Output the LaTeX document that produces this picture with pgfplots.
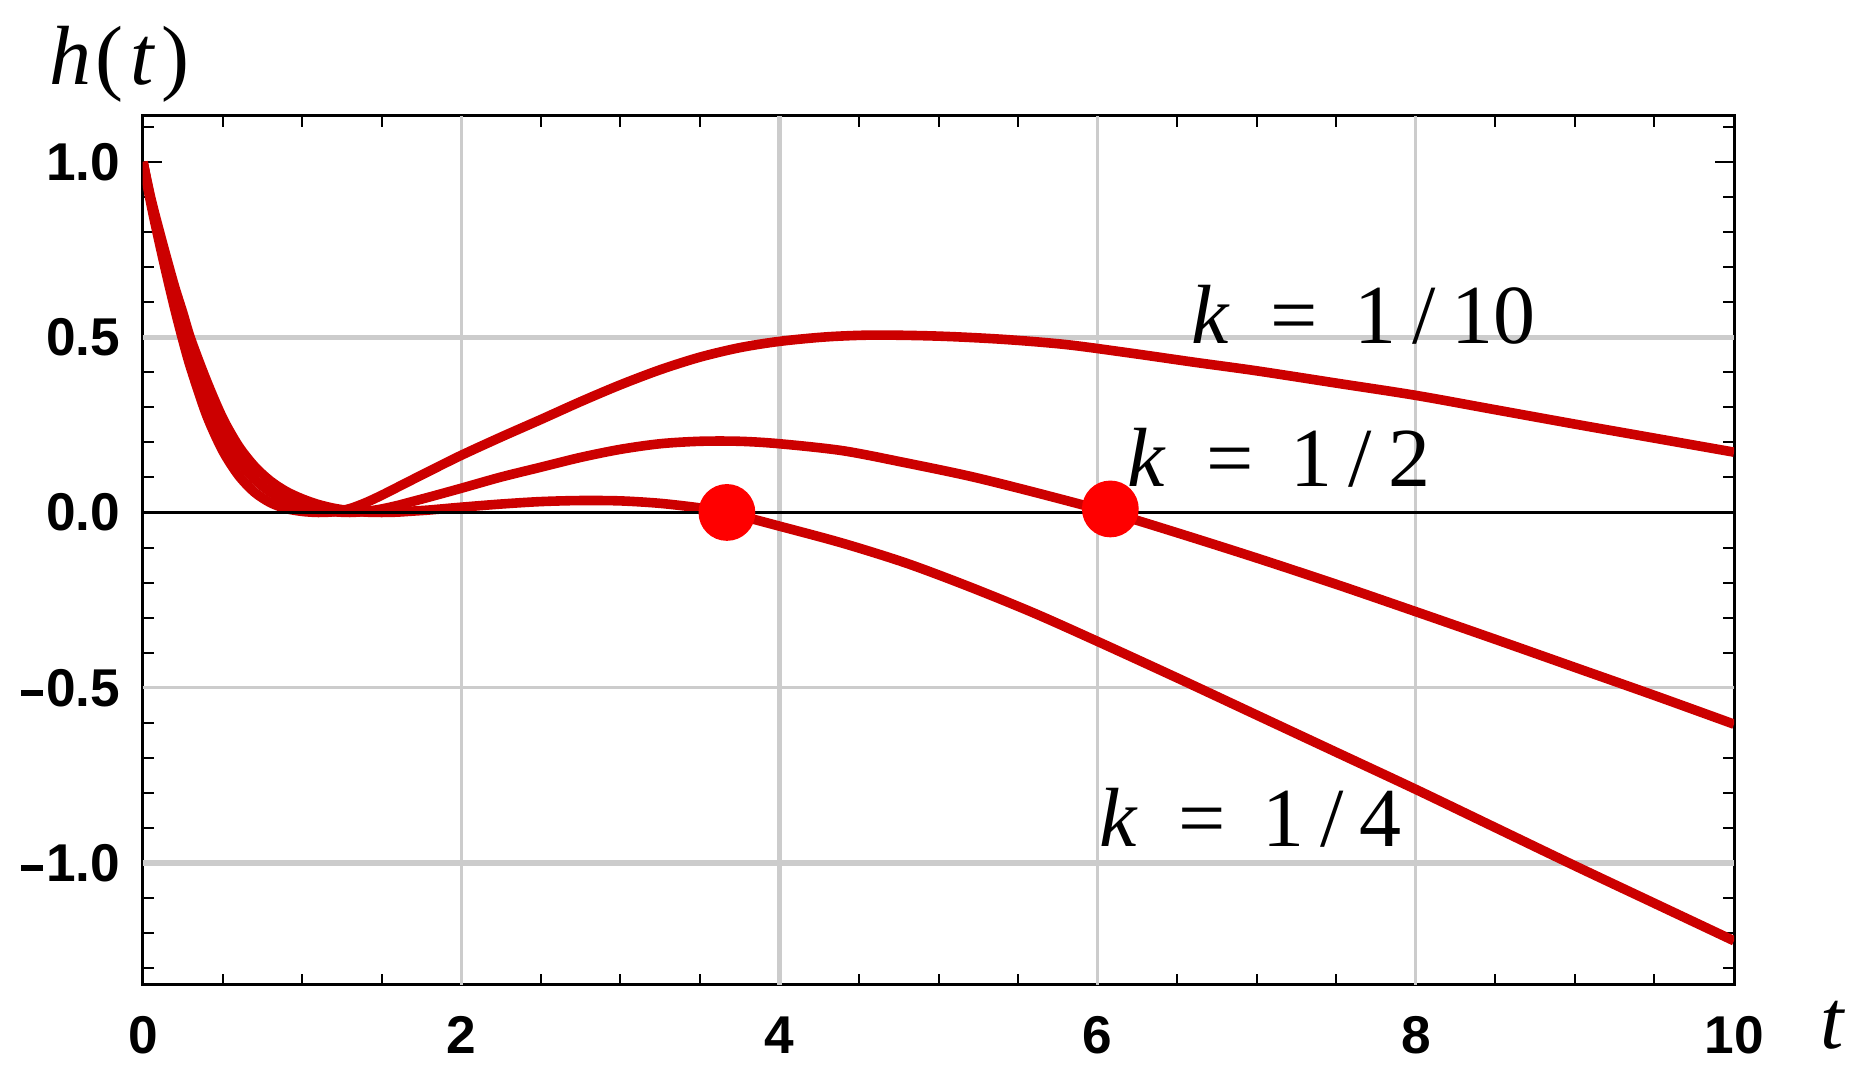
\documentclass[border=0pt]{standalone}
\usepackage{fontspec}
\setmainfont{Liberation Serif}
\newfontfamily\tickfont{Liberation Sans}
\usepackage{pgfplots}
\pgfplotsset{compat=1.18}

\definecolor{curvered}{RGB}{204,0,0}
\definecolor{dotred}{RGB}{255,0,0}
\definecolor{gridgray}{RGB}{204,204,204}

\newcommand\labfont{\fontsize{21}{24}\selectfont}
\newcommand\klab[1]{\textit{k}\kern10.2pt=\kern9.1pt 1\kern4pt/\kern4pt#1}
\newcommand\mn{\raisebox{2.6pt}{\rule{5.5pt}{1.5pt}}\kern0.8pt}

\begin{document}
\begin{tikzpicture}
\begin{axis}[
    scale only axis, width=397.75pt, height=217.25pt,
    xmin=0, xmax=10, ymin=-1.348, ymax=1.131,
    axis line style={line width=0.75pt},
    xtick={0,2,4,6,8,10}, ytick={-1,-0.5,0,0.5,1},
    yticklabels={\mn1.0,\mn0.5,0.0,0.5,1.0},
    minor xtick={0.5,1,1.5,2.5,3,3.5,4.5,5,5.5,6.5,7,7.5,8.5,9,9.5},
    minor ytick={-1.3,-1.2,-1.1,-0.9,-0.8,-0.7,-0.6,-0.4,-0.3,-0.2,-0.1,0.1,0.2,0.3,0.4,0.6,0.7,0.8,0.9,1.1},
    tick align=inside, xtick pos=both, ytick pos=both,
    xticklabel pos=lower, yticklabel pos=left,
    major tick length=4.75pt, minor tick length=2.75pt,
    every tick/.style={black, line width=0.5pt},
    tick label style={font=\tickfont\bfseries\fontsize{13.3}{15}\selectfont, inner sep=0pt},
    /pgf/number format/assume math mode=true,
    xticklabel style={anchor=north, yshift=-7.75pt},
    yticklabel style={anchor=east, xshift=-5.5pt},
]
% grid lines (widths as rendered in the original)
\draw[gridgray, line width=0.75pt] (axis cs:2,-1.348) -- (axis cs:2,1.131);
\draw[gridgray, line width=1.4pt] (axis cs:4,-1.348) -- (axis cs:4,1.131);
\draw[gridgray, line width=0.7pt] (axis cs:6,-1.348) -- (axis cs:6,1.131);
\draw[gridgray, line width=0.7pt] (axis cs:8,-1.348) -- (axis cs:8,1.131);
\draw[gridgray, line width=1.3pt] (axis cs:0,0.5) -- (axis cs:10,0.5);
\draw[gridgray, line width=0.7pt] (axis cs:0,-0.5) -- (axis cs:10,-0.5);
\draw[gridgray, line width=1.3pt] (axis cs:0,-1) -- (axis cs:10,-1);

% k = 1/10
\addplot[curvered, line width=2.4pt, smooth, line join=round] coordinates {
    (0,1.000) (0.05,0.880) (0.1,0.775) (0.15,0.675) (0.2,0.580) (0.25,0.492)
    (0.3,0.412) (0.4,0.277) (0.5,0.177) (0.6,0.106) (0.7,0.058) (0.8,0.028)
    (0.9,0.011) (1.0,0.003) (1.1,0.000) (1.2,0.002) (1.3,0.011) (1.4,0.028)
    (1.5,0.049) (1.6,0.072) (1.8,0.118) (2.0,0.163) (2.25,0.215) (2.5,0.265)
    (2.75,0.316) (3.0,0.364) (3.25,0.407) (3.5,0.443) (3.75,0.470) (4.0,0.488)
    (4.3,0.501) (4.6,0.506) (5.0,0.503) (5.4,0.494) (5.8,0.479) (6.2,0.455)
    (6.6,0.429) (7.0,0.404) (7.5,0.369) (8.0,0.334) (8.5,0.293) (9.0,0.252)
    (9.5,0.212) (10,0.172)
};
% k = 1/2
\addplot[curvered, line width=2.4pt, smooth, line join=round] coordinates {
    (0,1.000) (0.05,0.888) (0.1,0.792) (0.15,0.700) (0.2,0.612) (0.25,0.532)
    (0.3,0.455) (0.4,0.327) (0.5,0.225) (0.6,0.148) (0.7,0.095) (0.8,0.058)
    (0.9,0.034) (1.0,0.017) (1.1,0.007) (1.2,0.002) (1.3,0.000) (1.4,0.003)
    (1.5,0.010) (1.6,0.020) (1.7,0.032) (1.8,0.044) (2.0,0.069) (2.25,0.101)
    (2.5,0.129) (2.75,0.157) (3.0,0.180) (3.25,0.196) (3.5,0.203) (3.75,0.203)
    (4.0,0.196) (4.4,0.176) (4.8,0.141) (5.2,0.103) (5.6,0.058) (6.08,0.000)
    (6.5,-0.058) (7.0,-0.130) (7.5,-0.205) (8.0,-0.283) (8.5,-0.362)
    (9.0,-0.442) (9.5,-0.522) (10,-0.604)
};
% k = 1/4
\addplot[curvered, line width=2.4pt, smooth, line join=round] coordinates {
    (0,1.000) (0.05,0.895) (0.1,0.807) (0.15,0.723) (0.2,0.642) (0.25,0.570)
    (0.3,0.495) (0.4,0.375) (0.5,0.270) (0.6,0.190) (0.7,0.132) (0.8,0.090)
    (0.9,0.060) (1.0,0.039) (1.1,0.023) (1.2,0.012) (1.3,0.005) (1.4,0.001)
    (1.5,0.000) (1.6,0.001) (1.7,0.004) (1.8,0.007) (2.0,0.015) (2.25,0.024)
    (2.5,0.031) (2.75,0.034) (3.0,0.033) (3.25,0.026) (3.5,0.013) (3.67,0.000)
    (4.0,-0.039) (4.4,-0.088) (4.8,-0.145) (5.2,-0.213) (5.6,-0.287)
    (6.0,-0.368) (6.5,-0.472) (7.0,-0.578) (7.5,-0.684) (8.0,-0.790)
    (8.5,-0.899) (9.0,-1.008) (9.5,-1.115) (10,-1.222)
};
% t axis
\addplot[black, line width=0.6pt] coordinates {(0,0) (10,0)};
% zero crossings
\addplot[only marks, mark=*, mark size=6.9pt, color=dotred] coordinates {(3.67,0) (6.08,0.01)};

\node[anchor=base west, font=\labfont] at (axis cs:6.50,0.481) {\klab{10}};
\node[anchor=base west, font=\labfont] at (axis cs:6.10,0.073) {\klab{2}};
\node[anchor=base west, font=\labfont] at (axis cs:5.92,-0.954) {\klab{4}};
\end{axis}
\node[anchor=base west, font=\labfont, inner sep=0pt] at (-23.5pt,225pt)
    {\textit{h}\kern1pt(\kern1.75pt\textit{t}\kern1.5pt)};
\node[anchor=base west, font=\labfont, inner sep=0pt] at (419.25pt,-16pt) {\textit{t}};
\pgfresetboundingbox
\path[use as bounding box] (-35.75pt,-23.25pt) rectangle (431.5pt,246.25pt);
\end{tikzpicture}
\end{document}
